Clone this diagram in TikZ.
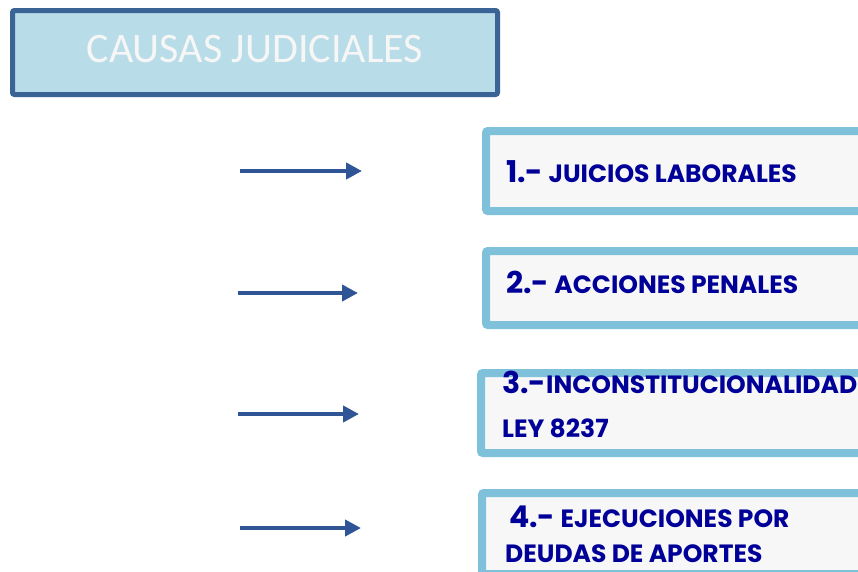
\documentclass[tikz,border=0pt]{standalone}
\usepackage{fontspec}
\setmainfont{Carlito}
\newfontfamily\boxfont{Poppins}[UprightFont=* Bold]
\usetikzlibrary{arrows.meta}
\definecolor{titleborder}{HTML}{3A6496}
\definecolor{titlefill}{HTML}{B8DDE8}
\definecolor{titletext}{HTML}{F6F6F6}
\definecolor{boxborder}{HTML}{7FC0DA}
\definecolor{boxfill}{HTML}{F7F7F7}
\definecolor{boxtext}{HTML}{000099}
\definecolor{arrowblue}{HTML}{2F5597}
\tikzset{
  titlebox/.style={draw=titleborder, line width=5pt, fill=titlefill, rounded corners=2pt},
  itembox/.style={draw=boxborder, line width=8pt, fill=boxfill, rounded corners=2pt},
  itemtext/.style={anchor=base west, inner sep=0pt, text=boxtext, font=\boxfont\fontsize{25}{26}\selectfont},
  linkarrow/.style={draw=arrowblue, line width=4pt, -{Triangle[length=16pt,width=16pt]}},
}
\newcommand{\bnum}[1]{{\fontsize{30}{32}\selectfont #1}}
\begin{document}
\begin{tikzpicture}[x=1pt,y=-1pt]
\useasboundingbox (0,0) rectangle (858,571);
\clip (0,0) rectangle (858,571);
\fill[white] (0,0) rectangle (858,571);
% title
\draw[titlebox] (12.5,10.5) rectangle (497.5,94.5);
\node[text=titletext, font=\fontsize{42}{44}\selectfont, inner sep=0pt, anchor=base] (title) at (255,62) {CAUSAS JUDICIALES};
% boxes
\draw[itembox] (486,131) rectangle (880,211);
\draw[itembox] (486,251) rectangle (880,325);
\draw[itembox] (481,373) rectangle (880,453);
\draw[itembox] (482,493) rectangle (880,574);
% texts
\node[itemtext] (t1) at (506,182) {\bnum{1.-} JUICIOS LABORALES};
\node[itemtext] (t2) at (506,293) {\bnum{2.-} ACCIONES PENALES};
\node[itemtext] (t3a) at (502,393) {\bnum{3.-}INCONSTITUCIONALIDAD};
\node[itemtext] (t3b) at (502,437) {LEY 8237};
\node[itemtext] (t4a) at (509,527) {\bnum{4.-} EJECUCIONES POR};
\node[itemtext] (t4b) at (505,562) {DEUDAS DE APORTES};
% arrows
\coordinate (a1s) at (240,171); \coordinate (a1e) at (362,171);
\coordinate (a2s) at (238,293); \coordinate (a2e) at (358,293);
\coordinate (a3s) at (238,414); \coordinate (a3e) at (359,414);
\coordinate (a4s) at (240,528); \coordinate (a4e) at (361,528);
\draw[linkarrow] (a1s) -- (a1e);
\draw[linkarrow] (a2s) -- (a2e);
\draw[linkarrow] (a3s) -- (a3e);
\draw[linkarrow] (a4s) -- (a4e);
\end{tikzpicture}
\end{document}
